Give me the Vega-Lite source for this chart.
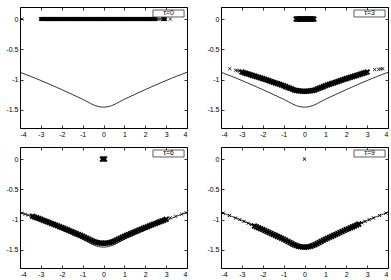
{
  "$schema": "https://vega.github.io/schema/vega-lite/v6.json",
  "padding": {"left": 5, "top": 6, "right": 5, "bottom": 3},
  "config": {
    "view": {"stroke": "black", "strokeWidth": 1},
    "axis": {
      "labelFont": "Liberation Sans", "labelFontSize": 7, "labelColor": "black",
      "tickColor": "black", "tickSize": -3, "tickWidth": 0.8,
      "domain": false, "grid": false, "title": null, "labelPadding": 5
    },
    "text": {"font": "Liberation Sans"}
  },
  "datasets": {
    "curve": [
      {"x": -4, "y": -0.88}, {"x": -3.75, "y": -0.912}, {"x": -3.5, "y": -0.945}, {"x": -3.25, "y": -0.98},
      {"x": -3, "y": -1.015}, {"x": -2.75, "y": -1.052}, {"x": -2.5, "y": -1.09}, {"x": -2.25, "y": -1.127},
      {"x": -2, "y": -1.165}, {"x": -1.75, "y": -1.205}, {"x": -1.5, "y": -1.245}, {"x": -1.25, "y": -1.285},
      {"x": -1, "y": -1.325}, {"x": -0.75, "y": -1.37}, {"x": -0.5, "y": -1.415}, {"x": -0.25, "y": -1.445},
      {"x": 0, "y": -1.455},
      {"x": 0.25, "y": -1.445}, {"x": 0.5, "y": -1.415}, {"x": 0.75, "y": -1.37}, {"x": 1, "y": -1.325},
      {"x": 1.25, "y": -1.285}, {"x": 1.5, "y": -1.245}, {"x": 1.75, "y": -1.205}, {"x": 2, "y": -1.165},
      {"x": 2.25, "y": -1.127}, {"x": 2.5, "y": -1.09}, {"x": 2.75, "y": -1.052}, {"x": 3, "y": -1.015},
      {"x": 3.25, "y": -0.98}, {"x": 3.5, "y": -0.945}, {"x": 3.75, "y": -0.912}, {"x": 4, "y": -0.88}
    ],
    "p0": [
      {"x": -3, "y": 0}, {"x": -2.95, "y": 0}, {"x": -2.9, "y": 0}, {"x": -2.85, "y": 0}, {"x": -2.8, "y": 0},
      {"x": -2.75, "y": 0}, {"x": -2.7, "y": 0}, {"x": -2.65, "y": 0}, {"x": -2.6, "y": 0}, {"x": -2.55, "y": 0},
      {"x": -2.5, "y": 0}, {"x": -2.45, "y": 0}, {"x": -2.4, "y": 0}, {"x": -2.35, "y": 0}, {"x": -2.3, "y": 0},
      {"x": -2.25, "y": 0}, {"x": -2.2, "y": 0}, {"x": -2.15, "y": 0}, {"x": -2.1, "y": 0}, {"x": -2.05, "y": 0},
      {"x": -2, "y": 0}, {"x": -1.95, "y": 0}, {"x": -1.9, "y": 0}, {"x": -1.85, "y": 0}, {"x": -1.8, "y": 0},
      {"x": -1.75, "y": 0}, {"x": -1.7, "y": 0}, {"x": -1.65, "y": 0}, {"x": -1.6, "y": 0}, {"x": -1.55, "y": 0},
      {"x": -1.5, "y": 0}, {"x": -1.45, "y": 0}, {"x": -1.4, "y": 0}, {"x": -1.35, "y": 0}, {"x": -1.3, "y": 0},
      {"x": -1.25, "y": 0}, {"x": -1.2, "y": 0}, {"x": -1.15, "y": 0}, {"x": -1.1, "y": 0}, {"x": -1.05, "y": 0},
      {"x": -1, "y": 0}, {"x": -0.95, "y": 0}, {"x": -0.9, "y": 0}, {"x": -0.85, "y": 0}, {"x": -0.8, "y": 0},
      {"x": -0.75, "y": 0}, {"x": -0.7, "y": 0}, {"x": -0.65, "y": 0}, {"x": -0.6, "y": 0}, {"x": -0.55, "y": 0},
      {"x": -0.5, "y": 0}, {"x": -0.45, "y": 0}, {"x": -0.4, "y": 0}, {"x": -0.35, "y": 0}, {"x": -0.3, "y": 0},
      {"x": -0.25, "y": 0}, {"x": -0.2, "y": 0}, {"x": -0.15, "y": 0}, {"x": -0.1, "y": 0}, {"x": -0.05, "y": 0},
      {"x": 0, "y": 0}, {"x": 0.05, "y": 0}, {"x": 0.1, "y": 0}, {"x": 0.15, "y": 0}, {"x": 0.2, "y": 0},
      {"x": 0.25, "y": 0}, {"x": 0.3, "y": 0}, {"x": 0.35, "y": 0}, {"x": 0.4, "y": 0}, {"x": 0.45, "y": 0},
      {"x": 0.5, "y": 0}, {"x": 0.55, "y": 0}, {"x": 0.6, "y": 0}, {"x": 0.65, "y": 0}, {"x": 0.7, "y": 0},
      {"x": 0.75, "y": 0}, {"x": 0.8, "y": 0}, {"x": 0.85, "y": 0}, {"x": 0.9, "y": 0}, {"x": 0.95, "y": 0},
      {"x": 1, "y": 0}, {"x": 1.05, "y": 0}, {"x": 1.1, "y": 0}, {"x": 1.15, "y": 0}, {"x": 1.2, "y": 0},
      {"x": 1.25, "y": 0}, {"x": 1.3, "y": 0}, {"x": 1.35, "y": 0}, {"x": 1.4, "y": 0}, {"x": 1.45, "y": 0},
      {"x": 1.5, "y": 0}, {"x": 1.55, "y": 0}, {"x": 1.6, "y": 0}, {"x": 1.65, "y": 0}, {"x": 1.7, "y": 0},
      {"x": 1.75, "y": 0}, {"x": 1.8, "y": 0}, {"x": 1.85, "y": 0}, {"x": 1.9, "y": 0}, {"x": 1.95, "y": 0},
      {"x": 2, "y": 0}, {"x": 2.05, "y": 0}, {"x": 2.1, "y": 0}, {"x": 2.15, "y": 0}, {"x": 2.2, "y": 0},
      {"x": 2.25, "y": 0}, {"x": 2.3, "y": 0}, {"x": 2.35, "y": 0}, {"x": 2.4, "y": 0}, {"x": 2.45, "y": 0},
      {"x": 2.5, "y": 0}, {"x": 2.85, "y": 0}, {"x": 2.9, "y": 0}, {"x": 2.95, "y": 0}
    ],
    "s0": [
      {"x": -3.9, "y": 0}, {"x": 2.6, "y": 0}, {"x": 2.7, "y": 0}, {"x": 3.2, "y": 0}
    ],
    "p3": [
      {"x": -0.4, "y": 0}, {"x": -0.35, "y": 0}, {"x": -0.3, "y": 0}, {"x": -0.25, "y": 0}, {"x": -0.2, "y": 0},
      {"x": -0.15, "y": 0}, {"x": -0.1, "y": 0}, {"x": -0.05, "y": 0}, {"x": 0, "y": 0}, {"x": 0.05, "y": 0},
      {"x": 0.1, "y": 0}, {"x": 0.15, "y": 0}, {"x": 0.2, "y": 0}, {"x": 0.25, "y": 0}, {"x": 0.3, "y": 0},
      {"x": 0.35, "y": 0}, {"x": 0.4, "y": 0}, {"x": 0.45, "y": 0},
      {"x": -3, "y": -0.876}, {"x": -2.9, "y": -0.887}, {"x": -2.8, "y": -0.897}, {"x": -2.7, "y": -0.908},
      {"x": -2.6, "y": -0.919}, {"x": -2.5, "y": -0.93}, {"x": -2.4, "y": -0.941}, {"x": -2.3, "y": -0.952},
      {"x": -2.2, "y": -0.962}, {"x": -2.1, "y": -0.973}, {"x": -2, "y": -0.984}, {"x": -1.9, "y": -0.996},
      {"x": -1.8, "y": -1.007}, {"x": -1.7, "y": -1.019}, {"x": -1.6, "y": -1.031}, {"x": -1.5, "y": -1.043},
      {"x": -1.4, "y": -1.055}, {"x": -1.3, "y": -1.066}, {"x": -1.2, "y": -1.078}, {"x": -1.1, "y": -1.09},
      {"x": -1, "y": -1.102}, {"x": -0.9, "y": -1.116}, {"x": -0.8, "y": -1.13}, {"x": -0.7, "y": -1.143},
      {"x": -0.6, "y": -1.157}, {"x": -0.5, "y": -1.171}, {"x": -0.4, "y": -1.18}, {"x": -0.3, "y": -1.185},
      {"x": -0.2, "y": -1.189}, {"x": -0.1, "y": -1.192}, {"x": 0, "y": -1.193},
      {"x": 0.1, "y": -1.192}, {"x": 0.2, "y": -1.189}, {"x": 0.3, "y": -1.185}, {"x": 0.4, "y": -1.18},
      {"x": 0.5, "y": -1.171}, {"x": 0.6, "y": -1.157}, {"x": 0.7, "y": -1.143}, {"x": 0.8, "y": -1.13},
      {"x": 0.9, "y": -1.116}, {"x": 1, "y": -1.102}, {"x": 1.1, "y": -1.09}, {"x": 1.2, "y": -1.078},
      {"x": 1.3, "y": -1.066}, {"x": 1.4, "y": -1.055}, {"x": 1.5, "y": -1.043}, {"x": 1.6, "y": -1.031},
      {"x": 1.7, "y": -1.019}, {"x": 1.8, "y": -1.007}, {"x": 1.9, "y": -0.996}, {"x": 2, "y": -0.984},
      {"x": 2.1, "y": -0.973}, {"x": 2.2, "y": -0.962}, {"x": 2.3, "y": -0.952}, {"x": 2.4, "y": -0.941},
      {"x": 2.5, "y": -0.93}, {"x": 2.6, "y": -0.919}, {"x": 2.7, "y": -0.908}, {"x": 2.8, "y": -0.897},
      {"x": 2.9, "y": -0.887}, {"x": 3, "y": -0.876}
    ],
    "s3": [
      {"x": -3.58, "y": -0.82}, {"x": -3.3, "y": -0.845}, {"x": -3.22, "y": -0.852}, {"x": -3.12, "y": -0.86},
      {"x": 3.36, "y": -0.835}, {"x": 3.55, "y": -0.83}, {"x": 3.65, "y": -0.825}, {"x": 3.75, "y": -0.82}
    ],
    "p6": [
      {"x": -0.05, "y": 0}, {"x": 0, "y": 0}, {"x": 0.05, "y": 0},
      {"x": -3.4, "y": -0.946}, {"x": -3.3, "y": -0.958}, {"x": -3.2, "y": -0.97}, {"x": -3.1, "y": -0.982},
      {"x": -3, "y": -0.995}, {"x": -2.9, "y": -1.009}, {"x": -2.8, "y": -1.022}, {"x": -2.7, "y": -1.036},
      {"x": -2.6, "y": -1.049}, {"x": -2.5, "y": -1.063}, {"x": -2.4, "y": -1.076}, {"x": -2.3, "y": -1.09},
      {"x": -2.2, "y": -1.103}, {"x": -2.1, "y": -1.117}, {"x": -2, "y": -1.13}, {"x": -1.9, "y": -1.144},
      {"x": -1.8, "y": -1.159}, {"x": -1.7, "y": -1.173}, {"x": -1.6, "y": -1.188}, {"x": -1.5, "y": -1.202},
      {"x": -1.4, "y": -1.217}, {"x": -1.3, "y": -1.232}, {"x": -1.2, "y": -1.246}, {"x": -1.1, "y": -1.26},
      {"x": -1, "y": -1.275}, {"x": -0.9, "y": -1.292}, {"x": -0.8, "y": -1.308}, {"x": -0.7, "y": -1.324},
      {"x": -0.6, "y": -1.341}, {"x": -0.5, "y": -1.358}, {"x": -0.4, "y": -1.369}, {"x": -0.3, "y": -1.38},
      {"x": -0.2, "y": -1.386}, {"x": -0.1, "y": -1.389}, {"x": 0, "y": -1.39},
      {"x": 0.1, "y": -1.389}, {"x": 0.2, "y": -1.386}, {"x": 0.3, "y": -1.38}, {"x": 0.4, "y": -1.369},
      {"x": 0.5, "y": -1.358}, {"x": 0.6, "y": -1.341}, {"x": 0.7, "y": -1.324}, {"x": 0.8, "y": -1.308},
      {"x": 0.9, "y": -1.292}, {"x": 1, "y": -1.275}, {"x": 1.1, "y": -1.26}, {"x": 1.2, "y": -1.246},
      {"x": 1.3, "y": -1.232}, {"x": 1.4, "y": -1.217}, {"x": 1.5, "y": -1.202}, {"x": 1.6, "y": -1.188},
      {"x": 1.7, "y": -1.173}, {"x": 1.8, "y": -1.159}, {"x": 1.9, "y": -1.144}, {"x": 2, "y": -1.13},
      {"x": 2.1, "y": -1.117}, {"x": 2.2, "y": -1.103}, {"x": 2.3, "y": -1.09}, {"x": 2.4, "y": -1.076},
      {"x": 2.5, "y": -1.063}, {"x": 2.6, "y": -1.049}, {"x": 2.7, "y": -1.036}, {"x": 2.8, "y": -1.022},
      {"x": 2.9, "y": -1.009}, {"x": 3, "y": -0.995}
    ],
    "s6": [
      {"x": -3.9, "y": -0.892}, {"x": -3.75, "y": -0.91}, {"x": -3.6, "y": -0.925},
      {"x": 3.2, "y": -0.97}, {"x": 3.45, "y": -0.945}, {"x": 3.75, "y": -0.912}, {"x": 3.95, "y": -0.887}
    ],
    "p9": [
      {"x": -2.4, "y": -1.105}, {"x": -2.3, "y": -1.12}, {"x": -2.2, "y": -1.135}, {"x": -2.1, "y": -1.15},
      {"x": -2, "y": -1.165}, {"x": -1.9, "y": -1.181}, {"x": -1.8, "y": -1.197}, {"x": -1.7, "y": -1.213},
      {"x": -1.6, "y": -1.229}, {"x": -1.5, "y": -1.245}, {"x": -1.4, "y": -1.261}, {"x": -1.3, "y": -1.277},
      {"x": -1.2, "y": -1.293}, {"x": -1.1, "y": -1.309}, {"x": -1, "y": -1.325}, {"x": -0.9, "y": -1.343},
      {"x": -0.8, "y": -1.361}, {"x": -0.7, "y": -1.379}, {"x": -0.6, "y": -1.397}, {"x": -0.5, "y": -1.415},
      {"x": -0.4, "y": -1.428}, {"x": -0.3, "y": -1.44}, {"x": -0.2, "y": -1.448}, {"x": -0.1, "y": -1.453},
      {"x": 0, "y": -1.455},
      {"x": 0.1, "y": -1.453}, {"x": 0.2, "y": -1.448}, {"x": 0.3, "y": -1.44}, {"x": 0.4, "y": -1.428},
      {"x": 0.5, "y": -1.415}, {"x": 0.6, "y": -1.397}, {"x": 0.7, "y": -1.379}, {"x": 0.8, "y": -1.361},
      {"x": 0.9, "y": -1.343}, {"x": 1, "y": -1.325}, {"x": 1.1, "y": -1.309}, {"x": 1.2, "y": -1.293},
      {"x": 1.3, "y": -1.277}, {"x": 1.4, "y": -1.261}, {"x": 1.5, "y": -1.245}, {"x": 1.6, "y": -1.229},
      {"x": 1.7, "y": -1.213}, {"x": 1.8, "y": -1.197}, {"x": 1.9, "y": -1.181}, {"x": 2, "y": -1.165},
      {"x": 2.1, "y": -1.15}, {"x": 2.2, "y": -1.135}, {"x": 2.3, "y": -1.12}, {"x": 2.4, "y": -1.105},
      {"x": 2.5, "y": -1.09}, {"x": 2.6, "y": -1.075}
    ],
    "s9": [
      {"x": 0, "y": 0},
      {"x": -3.9, "y": -0.893}, {"x": -3.6, "y": -0.932}, {"x": -3.3, "y": -0.973}, {"x": -3.1, "y": -1.001},
      {"x": -2.9, "y": -1.03}, {"x": -2.7, "y": -1.06}, {"x": -2.55, "y": -1.082},
      {"x": 2.75, "y": -1.052}, {"x": 2.9, "y": -1.03}, {"x": 3.1, "y": -1.001}, {"x": 3.3, "y": -0.973},
      {"x": 3.6, "y": -0.932}, {"x": 3.9, "y": -0.893}
    ]
  },
  "columns": 2,
  "bounds": "flush",
  "spacing": {"row": 19, "column": 34},
  "concat": [
    {
      "width": 167, "height": 121,
      "layer": [
        {"data": {"name": "curve"}, "mark": {"type": "line", "color": "black", "strokeWidth": 0.8, "interpolate": "monotone"},
         "encoding": {
           "x": {"field": "x", "type": "quantitative", "scale": {"domain": [-4, 4], "nice": false}, "axis": {"orient": "bottom", "values": [-4, -3, -2, -1, 0, 1, 2, 3, 4], "labelExpr": "toString(datum.value)"}},
           "y": {"field": "y", "type": "quantitative", "scale": {"domain": [-1.8, 0.2], "nice": false}, "axis": {"orient": "left", "values": [0, -0.5, -1, -1.5], "labelExpr": "toString(datum.value)"}}}},
        {"data": {"name": "p0"}, "mark": {"type": "point", "shape": "M-1,-1L1,1M-1,1L1,-1", "size": 12, "stroke": "black", "strokeWidth": 1.5, "filled": false, "opacity": 1},
         "encoding": {
           "x": {"field": "x", "type": "quantitative", "axis": {"orient": "top", "labels": false, "values": [-4, -3, -2, -1, 0, 1, 2, 3, 4]}},
           "y": {"field": "y", "type": "quantitative", "axis": {"orient": "right", "labels": false, "values": [0, -0.5, -1, -1.5]}}}},
        {"data": {"name": "s0"}, "mark": {"type": "point", "shape": "M-1,-1L1,1M-1,1L1,-1", "size": 10, "stroke": "black", "strokeWidth": 0.8, "filled": false, "opacity": 1},
         "encoding": {"x": {"field": "x", "type": "quantitative", "axis": null}, "y": {"field": "y", "type": "quantitative", "axis": null}}},
        {"data": {"values": [{}]}, "mark": {"type": "rect", "fill": "white", "stroke": "#333333", "strokeWidth": 0.8},
         "encoding": {"x": {"datum": 2.37, "type": "quantitative", "axis": null}, "x2": {"datum": 3.86},
                      "y": {"datum": 0.15, "type": "quantitative", "axis": null}, "y2": {"datum": 0.035}}},
        {"data": {"values": [{"label": "τ=0"}]}, "mark": {"type": "text", "fontSize": 7, "color": "black", "align": "center", "baseline": "middle"},
         "encoding": {"x": {"datum": 3.115, "type": "quantitative", "axis": null}, "y": {"datum": 0.093, "type": "quantitative", "axis": null}, "text": {"field": "label"}}}
      ],
      "resolve": {"axis": {"x": "independent", "y": "independent"}}
    },
    {
      "width": 167, "height": 121,
      "layer": [
        {"data": {"name": "curve"}, "mark": {"type": "line", "color": "black", "strokeWidth": 0.8, "interpolate": "monotone"},
         "encoding": {
           "x": {"field": "x", "type": "quantitative", "scale": {"domain": [-4, 4], "nice": false}, "axis": {"orient": "bottom", "values": [-4, -3, -2, -1, 0, 1, 2, 3, 4], "labelExpr": "toString(datum.value)"}},
           "y": {"field": "y", "type": "quantitative", "scale": {"domain": [-1.8, 0.2], "nice": false}, "axis": {"orient": "left", "values": [0, -0.5, -1, -1.5], "labelExpr": "toString(datum.value)"}}}},
        {"data": {"name": "p3"}, "mark": {"type": "point", "shape": "M-1,-1L1,1M-1,1L1,-1", "size": 22, "stroke": "black", "strokeWidth": 1.9, "filled": false, "opacity": 1},
         "encoding": {
           "x": {"field": "x", "type": "quantitative", "axis": {"orient": "top", "labels": false, "values": [-4, -3, -2, -1, 0, 1, 2, 3, 4]}},
           "y": {"field": "y", "type": "quantitative", "axis": {"orient": "right", "labels": false, "values": [0, -0.5, -1, -1.5]}}}},
        {"data": {"name": "s3"}, "mark": {"type": "point", "shape": "M-1,-1L1,1M-1,1L1,-1", "size": 10, "stroke": "black", "strokeWidth": 0.8, "filled": false, "opacity": 1},
         "encoding": {"x": {"field": "x", "type": "quantitative", "axis": null}, "y": {"field": "y", "type": "quantitative", "axis": null}}},
        {"data": {"values": [{}]}, "mark": {"type": "rect", "fill": "white", "stroke": "#333333", "strokeWidth": 0.8},
         "encoding": {"x": {"datum": 2.37, "type": "quantitative", "axis": null}, "x2": {"datum": 3.86},
                      "y": {"datum": 0.15, "type": "quantitative", "axis": null}, "y2": {"datum": 0.035}}},
        {"data": {"values": [{"label": "τ=3"}]}, "mark": {"type": "text", "fontSize": 7, "color": "black", "align": "center", "baseline": "middle"},
         "encoding": {"x": {"datum": 3.115, "type": "quantitative", "axis": null}, "y": {"datum": 0.093, "type": "quantitative", "axis": null}, "text": {"field": "label"}}}
      ],
      "resolve": {"axis": {"x": "independent", "y": "independent"}}
    },
    {
      "width": 167, "height": 121,
      "layer": [
        {"data": {"name": "curve"}, "mark": {"type": "line", "color": "black", "strokeWidth": 0.8, "interpolate": "monotone"},
         "encoding": {
           "x": {"field": "x", "type": "quantitative", "scale": {"domain": [-4, 4], "nice": false}, "axis": {"orient": "bottom", "values": [-4, -3, -2, -1, 0, 1, 2, 3, 4], "labelExpr": "toString(datum.value)"}},
           "y": {"field": "y", "type": "quantitative", "scale": {"domain": [-1.8, 0.2], "nice": false}, "axis": {"orient": "left", "values": [0, -0.5, -1, -1.5], "labelExpr": "toString(datum.value)"}}}},
        {"data": {"name": "p6"}, "mark": {"type": "point", "shape": "M-1,-1L1,1M-1,1L1,-1", "size": 22, "stroke": "black", "strokeWidth": 1.9, "filled": false, "opacity": 1},
         "encoding": {
           "x": {"field": "x", "type": "quantitative", "axis": {"orient": "top", "labels": false, "values": [-4, -3, -2, -1, 0, 1, 2, 3, 4]}},
           "y": {"field": "y", "type": "quantitative", "axis": {"orient": "right", "labels": false, "values": [0, -0.5, -1, -1.5]}}}},
        {"data": {"name": "s6"}, "mark": {"type": "point", "shape": "M-1,-1L1,1M-1,1L1,-1", "size": 10, "stroke": "black", "strokeWidth": 0.8, "filled": false, "opacity": 1},
         "encoding": {"x": {"field": "x", "type": "quantitative", "axis": null}, "y": {"field": "y", "type": "quantitative", "axis": null}}},
        {"data": {"values": [{}]}, "mark": {"type": "rect", "fill": "white", "stroke": "#333333", "strokeWidth": 0.8},
         "encoding": {"x": {"datum": 2.37, "type": "quantitative", "axis": null}, "x2": {"datum": 3.86},
                      "y": {"datum": 0.15, "type": "quantitative", "axis": null}, "y2": {"datum": 0.035}}},
        {"data": {"values": [{"label": "τ=6"}]}, "mark": {"type": "text", "fontSize": 7, "color": "black", "align": "center", "baseline": "middle"},
         "encoding": {"x": {"datum": 3.115, "type": "quantitative", "axis": null}, "y": {"datum": 0.093, "type": "quantitative", "axis": null}, "text": {"field": "label"}}}
      ],
      "resolve": {"axis": {"x": "independent", "y": "independent"}}
    },
    {
      "width": 167, "height": 121,
      "layer": [
        {"data": {"name": "curve"}, "mark": {"type": "line", "color": "black", "strokeWidth": 0.8, "interpolate": "monotone"},
         "encoding": {
           "x": {"field": "x", "type": "quantitative", "scale": {"domain": [-4, 4], "nice": false}, "axis": {"orient": "bottom", "values": [-4, -3, -2, -1, 0, 1, 2, 3, 4], "labelExpr": "toString(datum.value)"}},
           "y": {"field": "y", "type": "quantitative", "scale": {"domain": [-1.8, 0.2], "nice": false}, "axis": {"orient": "left", "values": [0, -0.5, -1, -1.5], "labelExpr": "toString(datum.value)"}}}},
        {"data": {"name": "p9"}, "mark": {"type": "point", "shape": "M-1,-1L1,1M-1,1L1,-1", "size": 22, "stroke": "black", "strokeWidth": 1.9, "filled": false, "opacity": 1},
         "encoding": {
           "x": {"field": "x", "type": "quantitative", "axis": {"orient": "top", "labels": false, "values": [-4, -3, -2, -1, 0, 1, 2, 3, 4]}},
           "y": {"field": "y", "type": "quantitative", "axis": {"orient": "right", "labels": false, "values": [0, -0.5, -1, -1.5]}}}},
        {"data": {"name": "s9"}, "mark": {"type": "point", "shape": "M-1,-1L1,1M-1,1L1,-1", "size": 10, "stroke": "black", "strokeWidth": 1, "filled": false, "opacity": 1},
         "encoding": {"x": {"field": "x", "type": "quantitative", "axis": null}, "y": {"field": "y", "type": "quantitative", "axis": null}}},
        {"data": {"values": [{}]}, "mark": {"type": "rect", "fill": "white", "stroke": "#333333", "strokeWidth": 0.8},
         "encoding": {"x": {"datum": 2.37, "type": "quantitative", "axis": null}, "x2": {"datum": 3.86},
                      "y": {"datum": 0.15, "type": "quantitative", "axis": null}, "y2": {"datum": 0.035}}},
        {"data": {"values": [{"label": "τ=9"}]}, "mark": {"type": "text", "fontSize": 7, "color": "black", "align": "center", "baseline": "middle"},
         "encoding": {"x": {"datum": 3.115, "type": "quantitative", "axis": null}, "y": {"datum": 0.093, "type": "quantitative", "axis": null}, "text": {"field": "label"}}}
      ],
      "resolve": {"axis": {"x": "independent", "y": "independent"}}
    }
  ]
}
